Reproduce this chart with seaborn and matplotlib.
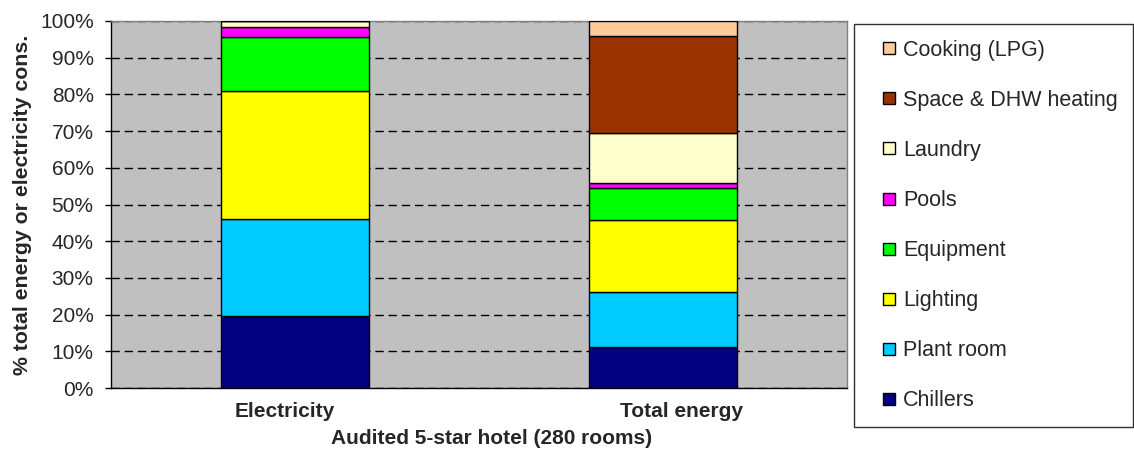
import matplotlib
matplotlib.use("Agg")
import matplotlib.pyplot as plt
from matplotlib.patches import Patch, Rectangle
from matplotlib.ticker import PercentFormatter
from matplotlib.transforms import ScaledTranslation
import numpy as np
import pandas as pd
import seaborn as sns

# Energy end-use breakdown of an audited 5-star hotel (shares in %)
categories = ["Electricity", "Total energy"]
end_uses = ["Chillers", "Plant room", "Lighting", "Equipment", "Pools",
            "Laundry", "Space & DHW heating", "Cooking (LPG)"]
chillers = [19.7, 11.1]
plant_room = [26.3, 15.0]
lighting = [35.0, 19.7]
equipment = [14.6, 8.6]
pools = [2.7, 1.5]
laundry = [1.7, 13.6]
space_dhw_heating = [0.0, 26.5]
cooking_lpg = [0.0, 4.0]
y_ticks = list(range(0, 101, 10))

series = [chillers, plant_room, lighting, equipment, pools,
          laundry, space_dhw_heating, cooking_lpg]
colors = ["#000080", "#00CCFF", "#FFFF00", "#00FF00", "#FF00FF",
          "#FFFFCC", "#993300", "#FFCC99"]

sns.set_style("white")
plt.rcParams["font.family"] = ["Liberation Sans", "DejaVu Sans"]
plt.rcParams["lines.scale_dashes"] = False

W, H = 1134, 451
fig = plt.figure(figsize=(W / 100, H / 100), dpi=100)
ax = fig.add_axes([111 / W, 1 - 388 / H, (847 - 111) / W, (388 - 21) / H])
ax.set_facecolor("#C0C0C0")

# Stacked bars: one barplot layer per end use, stacked on the running total
bottom = np.zeros(len(categories))
for use, vals, col in zip(end_uses, series, colors):
    layer = pd.DataFrame({"category": categories, "share": vals})
    sns.barplot(data=layer, x="category", y="share", order=categories,
                color=col, saturation=1, width=0.4, errorbar=None,
                edgecolor="black", linewidth=1, bottom=bottom.copy(),
                ax=ax, zorder=3)
    bottom += np.asarray(vals, dtype=float)

ax.set_xlim(-0.5, 1.5)
ax.set_ylim(0, 100)
ax.set_yticks(y_ticks)
ax.yaxis.set_major_formatter(PercentFormatter(xmax=100, decimals=0))

# Dashed horizontal gridlines behind the bars
ax.set_axisbelow(True)
ax.yaxis.grid(True, color="black", linewidth=1, linestyle=(0, (6, 3.5)))
ax.xaxis.grid(False)

for side in ("left", "bottom"):
    ax.spines[side].set_color("black")
    ax.spines[side].set_linewidth(1)
for side in ("top", "right"):
    ax.spines[side].set_color("#808080")
    ax.spines[side].set_linewidth(1)

ax.tick_params(axis="y", which="major", direction="out", length=4.5,
               width=1, color="black", pad=8, labelsize=15, left=True)
ax.tick_params(axis="x", length=0, pad=10)

# Category labels, nudged sideways a little
label_shift_px = [-10, 18]
for lbl, dx in zip(ax.get_xticklabels(), label_shift_px):
    lbl.set_fontweight("bold")
    lbl.set_fontsize(15)
    lbl.set_transform(lbl.get_transform()
                      + ScaledTranslation(dx / 100, 0, fig.dpi_scale_trans))

ax.set_xlabel("Audited 5-star hotel (280 rooms)", fontsize=15,
              fontweight="bold")
ax.xaxis.set_label_coords((491.5 - 111) / 736, (388 - 429) / 367)
ax.set_ylabel("% total energy or electricity cons.", fontsize=15.3,
              fontweight="bold", labelpad=6)

# Legend listed from top of the stack down, inside a plain box
handles = [Patch(facecolor=c, edgecolor="black", linewidth=1) for c in colors]
fig.legend(handles[::-1], end_uses[::-1], loc="upper left",
           bbox_to_anchor=(883 / W, 1 - 40 / H), frameon=False,
           borderpad=0, borderaxespad=0, handlelength=0.58,
           handleheight=0.48, handletextpad=0.36, labelspacing=1.35,
           fontsize=15.5)
fig.add_artist(Rectangle((854 / W, 1 - 427 / H), (1133 - 854) / W, (427 - 24) / H,
                         transform=fig.transFigure, fill=False,
                         edgecolor="#303030", linewidth=1))

fig.savefig("out.png", dpi=100)
